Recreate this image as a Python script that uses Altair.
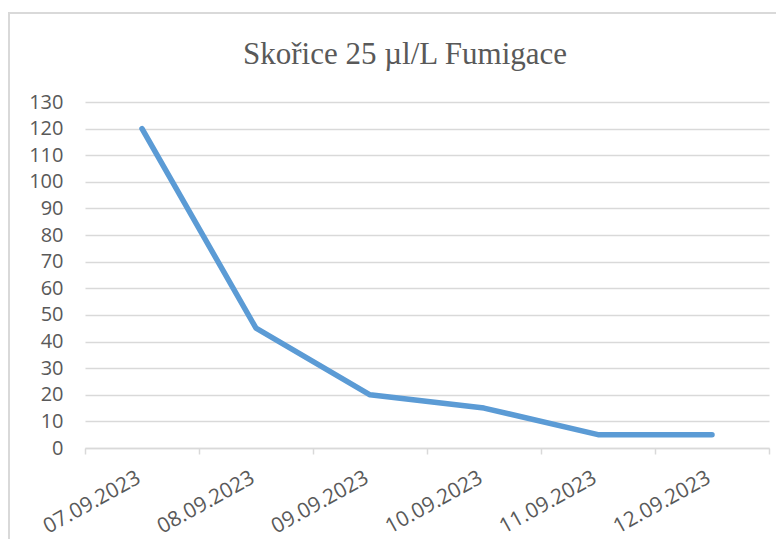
import altair as alt
import pandas as pd

dates = ["07.09.2023", "08.09.2023", "09.09.2023", "10.09.2023", "11.09.2023", "12.09.2023"]
values = [120, 45, 20, 15, 5, 5]
y_ticks = list(range(0, 131, 10))

df = pd.DataFrame({
    "date": dates,
    "value": values,
    "pos": [i + 0.5 for i in range(len(dates))],
})

W, H = 684, 346
GRID = "#d9d9d9"
TXT = "#595959"

xscale = alt.Scale(domain=[0, len(dates)], nice=False, zero=False)
yscale = alt.Scale(domain=[0, 130], nice=False)

base = alt.Chart(df)

line = base.mark_line(
    color="#5B9BD5", strokeWidth=5.5, strokeCap="round", strokeJoin="round"
).encode(
    x=alt.X("pos:Q", scale=xscale, axis=alt.Axis(
        values=list(range(len(dates) + 1)), labels=False, grid=False, title=None,
        tickSize=6, tickColor=GRID, tickWidth=1.5, domainColor=GRID, domainWidth=1.5)),
    y=alt.Y("value:Q", scale=yscale, axis=alt.Axis(
        values=y_ticks, title=None, grid=True, gridColor=GRID, gridWidth=1.5,
        domain=False, ticks=False, labelFontSize=20, labelFont="Open Sans",
        labelColor=TXT, labelPadding=22)),
)

labels = base.mark_text(
    align="right", baseline="alphabetic", angle=331, font="Open Sans",
    fontSize=21, color=TXT
).encode(
    x=alt.X("pos:Q", scale=xscale),
    y=alt.value(H + 34),
    text="date:N",
)

border = base.mark_rect(fill=None, stroke=GRID, strokeWidth=1.5).encode(
    x=alt.value(-76), x2=alt.value(W + 60), y=alt.value(-89), y2=alt.value(H + 150)
)

chart = alt.layer(border, line, labels).properties(
    width=W, height=H,
    autosize="none",
    padding={"left": 77, "top": 94, "right": 7, "bottom": 91},
    title=alt.TitleParams(
        text="Skořice 25 µl/L Fumigace", font="Liberation Serif", fontSize=31,
        fontWeight="normal", color=TXT, anchor="middle", frame="group",
        baseline="alphabetic", offset=-83, dx=-22,
    ),
).configure_view(stroke=None)

chart.save("out.html", embed_options={"renderer": "svg", "actions": False})
